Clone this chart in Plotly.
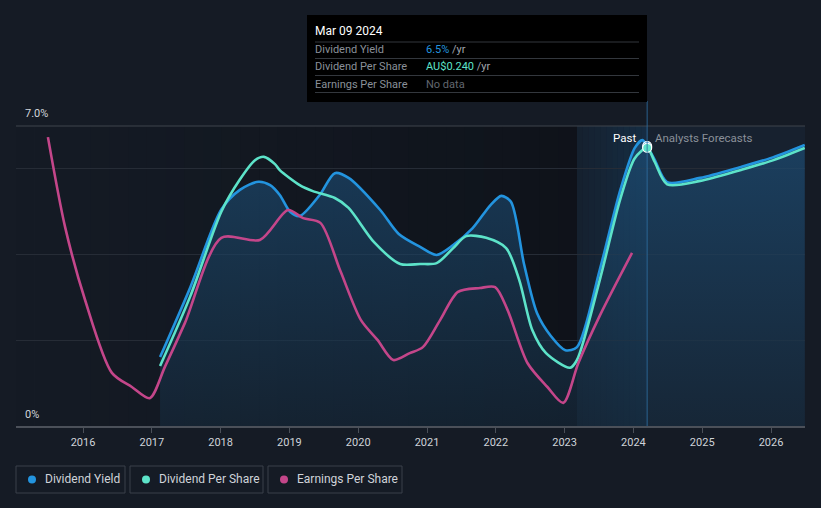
import plotly.graph_objects as go

# ---- data (chart units: % on the yield scale) ----
yield_x = [2017.12, 2017.56, 2018.01, 2018.28, 2018.55, 2018.72, 2018.86, 2019.01, 2019.15, 2019.44,
           2019.66, 2019.86, 2020.32, 2020.59, 2020.90, 2021.14, 2021.38, 2021.66, 2021.92, 2022.08,
           2022.22, 2022.41, 2022.60, 2022.80, 2023.01, 2023.18, 2023.51, 2023.81, 2024.02, 2024.13,
           2024.20, 2024.31, 2024.49, 2024.97, 2025.55, 2025.99, 2026.49]
yield_y = [1.61, 3.24, 5.05, 5.51, 5.70, 5.62, 5.39, 5.00, 4.90, 5.39,
           5.90, 5.79, 5.04, 4.48, 4.18, 3.99, 4.22, 4.61, 5.15, 5.37,
           5.23, 3.78, 2.63, 2.10, 1.77, 1.84, 3.64, 5.51, 6.49, 6.67,
           6.53, 6.21, 5.69, 5.79, 6.04, 6.25, 6.56]

dps_x = [2017.12, 2017.56, 2018.01, 2018.28, 2018.50, 2018.63, 2018.79, 2018.86, 2019.15, 2019.34,
         2019.66, 2019.86, 2020.23, 2020.61, 2020.90, 2021.14, 2021.38, 2021.57, 2021.86, 2022.15,
         2022.34, 2022.53, 2022.73, 2023.08, 2023.18, 2023.51, 2023.81, 2024.02, 2024.20, 2024.31,
         2024.49, 2024.97, 2025.55, 2025.99, 2026.49]
dps_y = [1.40, 3.03, 5.00, 5.75, 6.20, 6.28, 6.11, 5.97, 5.62, 5.48,
         5.32, 5.09, 4.29, 3.78, 3.78, 3.80, 4.15, 4.43, 4.39, 4.15,
         3.41, 2.24, 1.70, 1.36, 1.54, 3.40, 5.30, 6.25, 6.49, 6.16,
         5.64, 5.72, 5.97, 6.18, 6.49]

eps_x = [2015.49, 2015.74, 2016.03, 2016.42, 2016.71, 2016.97, 2017.19, 2017.48, 2018.01, 2018.57,
         2018.98, 2019.20, 2019.45, 2019.74, 2020.04, 2020.28, 2020.51, 2020.75, 2020.94, 2021.19,
         2021.45, 2021.77, 2021.99, 2022.17, 2022.46, 2022.75, 2022.98, 2023.20, 2023.51, 2023.98]
eps_y = [6.74, 4.64, 2.94, 1.24, 0.91, 0.65, 1.38, 2.40, 4.39, 4.34,
         5.04, 4.85, 4.74, 3.62, 2.47, 2.01, 1.54, 1.70, 1.84, 2.47,
         3.13, 3.22, 3.24, 2.71, 1.47, 0.91, 0.54, 1.47, 2.57, 4.04]

year_ticks = [2016, 2017, 2018, 2019, 2020, 2021, 2022, 2023, 2024, 2025, 2026]
year_labels = [str(y) for y in year_ticks]

today_x = 2024.20
today_yield = 6.53
today_dps = 6.49
past_band_start = 2023.18

tooltip_date = "Mar 09 2024"
tooltip_yield = "6.5%"
tooltip_dps = "AU$0.240"
tooltip_eps = "No data"

X0, X1 = 2015.026, 2026.494

BG = "#151b25"
BLUE = "#2394df"
TEAL = "#5de3c9"
MAG = "#c4468a"
GRAY = "#8a9099"

W, H = 821, 508
L, R, T, B = 16, 805, 126, 426


def px(x):
    return (x - L) / (R - L)


def py(y):
    return (B - y) / (B - T)


fig = go.Figure()

fig.add_trace(go.Scatter(
    x=yield_x, y=yield_y, mode="lines", line=dict(color=BLUE, width=2.6, shape="spline", smoothing=0.8),
    fill="tozeroy",
    fillgradient=dict(type="vertical", start=0, stop=7,
                      colorscale=[[0, "rgba(22,42,60,0.6)"], [1, "rgba(30,85,130,0.6)"]]),
    hoverinfo="skip", showlegend=False))
fig.add_trace(go.Scatter(
    x=dps_x, y=dps_y, mode="lines", line=dict(color=TEAL, width=2.6, shape="spline", smoothing=0.8),
    hoverinfo="skip", showlegend=False))
fig.add_trace(go.Scatter(
    x=eps_x, y=eps_y, mode="lines", line=dict(color=MAG, width=2.6, shape="spline", smoothing=0.8),
    hoverinfo="skip", showlegend=False))
fig.add_trace(go.Scatter(
    x=[today_x], y=[today_yield], mode="markers",
    marker=dict(color=BLUE, size=9, line=dict(color="white", width=1.2)),
    hoverinfo="skip", showlegend=False))
fig.add_trace(go.Scatter(
    x=[today_x], y=[today_dps], mode="markers",
    marker=dict(color=TEAL, size=9, line=dict(color="white", width=1.2)),
    hoverinfo="skip", showlegend=False))

shapes = []
# past darkening gradient
n = 30
for i in range(n):
    a = X0 + (past_band_start - X0) * i / n
    b = X0 + (past_band_start - X0) * (i + 1) / n
    t = (i + 0.5) / n
    op = 0.38 * t ** 1.3
    shapes.append(dict(type="rect", xref="x", yref="paper", x0=a, x1=b, y0=0, y1=1,
                       fillcolor=f"rgba(5,6,9,{op:.3f})", line_width=0, layer="below"))
# past year band (lighter blue, gradient)
m = 12
for i in range(m):
    a = past_band_start + (today_x - past_band_start) * i / m
    b = past_band_start + (today_x - past_band_start) * (i + 1) / m
    t = (i + 0.5) / m
    op = 0.10 + 0.22 * t
    shapes.append(dict(type="rect", xref="x", yref="paper", x0=a, x1=b, y0=0, y1=1,
                       fillcolor=f"rgba(25,85,135,{op:.3f})", line_width=0, layer="below"))
# forecast region
shapes.append(dict(type="rect", xref="x", yref="paper", x0=today_x, x1=X1, y0=0, y1=1,
                   fillcolor="rgba(30,45,65,0.35)", line_width=0, layer="below"))
# top line
shapes.append(dict(type="line", xref="paper", yref="paper", x0=0, x1=1, y0=1, y1=1,
                   line=dict(color="#3e444d", width=1), layer="below"))
# today vertical line
shapes.append(dict(type="line", xref="x", yref="paper", x0=today_x, x1=today_x, y0=0, y1=py(101),
                   line=dict(color="rgba(45,110,160,0.7)", width=1.2)))
# tooltip box
shapes.append(dict(type="rect", xref="paper", yref="paper", x0=px(307), x1=px(647), y0=py(102), y1=py(15),
                   fillcolor="#000000", line_width=0))
for sy in [42, 58.5, 75.5, 92.5]:
    shapes.append(dict(type="line", xref="paper", yref="paper", x0=px(315), x1=px(639), y0=py(sy), y1=py(sy),
                       line=dict(color="#33373d", width=1)))
# legend boxes
legend_items = [("Dividend Yield", BLUE, 16, 125), ("Dividend Per Share", TEAL, 130, 263),
                ("Earnings Per Share", MAG, 268, 402)]
for name, col, lx0, lx1 in legend_items:
    shapes.append(dict(type="rect", xref="paper", yref="paper", x0=px(lx0), x1=px(lx1), y0=py(493), y1=py(466),
                       fillcolor=BG, line=dict(color="#3a404a", width=1)))
    shapes.append(dict(type="circle", xref="paper", yref="paper", x0=px(lx0 + 12), x1=px(lx0 + 20),
                       y0=py(483.5), y1=py(475.5), fillcolor=col, line_width=0))

ann = []


def text(x, y, s, color, size, xanchor="left"):
    ann.append(dict(xref="paper", yref="paper", x=px(x), y=py(y), text=s,
                    showarrow=False, xanchor=xanchor, yanchor="middle",
                    font=dict(color=color, size=size, family="Roboto")))


text(23, 114, "7.0%", "#d3d6db", 11)
text(23, 414, "0%", "#d3d6db", 11)
text(638, 138, "Past", "#ffffff", 11.5, xanchor="right")
text(653, 138, "Analysts Forecasts", GRAY, 11.5)
text(313, 31, tooltip_date, "#ffffff", 12)
text(313, 49, "Dividend Yield", GRAY, 11)
text(313, 66, "Dividend Per Share", GRAY, 11)
text(313, 84, "Earnings Per Share", GRAY, 11)
text(424, 49, f"<span style='color:{BLUE}'>{tooltip_yield}</span> /yr", "#a0a5ad", 11)
text(424, 66, f"<span style='color:{TEAL}'>{tooltip_dps}</span> /yr", "#a0a5ad", 11)
text(424, 84, tooltip_eps, "#62676f", 11)
for name, col, lx0, lx1 in legend_items:
    text(lx0 + 27, 479.5, name, "#cfd3d9", 12)

fig.update_layout(
    width=W, height=H,
    margin=dict(l=L, r=W - R, t=T, b=H - B, pad=0),
    paper_bgcolor=BG, plot_bgcolor=BG,
    shapes=shapes, annotations=ann,
    font=dict(family="Roboto", color="#cfd3d9"),
    showlegend=False, hovermode=False,
    xaxis=dict(range=[X0, X1], tickvals=year_ticks, ticktext=year_labels, showgrid=False,
               zeroline=False, showline=True, linecolor="#4b5059", linewidth=1.5,
               ticks="outside", ticklen=5, tickcolor="#4b5059",
               tickfont=dict(size=11, color="#cfd3d9", family="Roboto"), fixedrange=True),
    yaxis=dict(range=[0, 7], tickvals=[2, 4, 6], showticklabels=False, showgrid=True,
               gridcolor="#262c36", gridwidth=1, zeroline=False, showline=False, fixedrange=True),
)

fig.write_html("out.html", config=dict(displayModeBar=False),
               post_script="document.body.style.margin='0';document.body.style.background='#151b25';")
